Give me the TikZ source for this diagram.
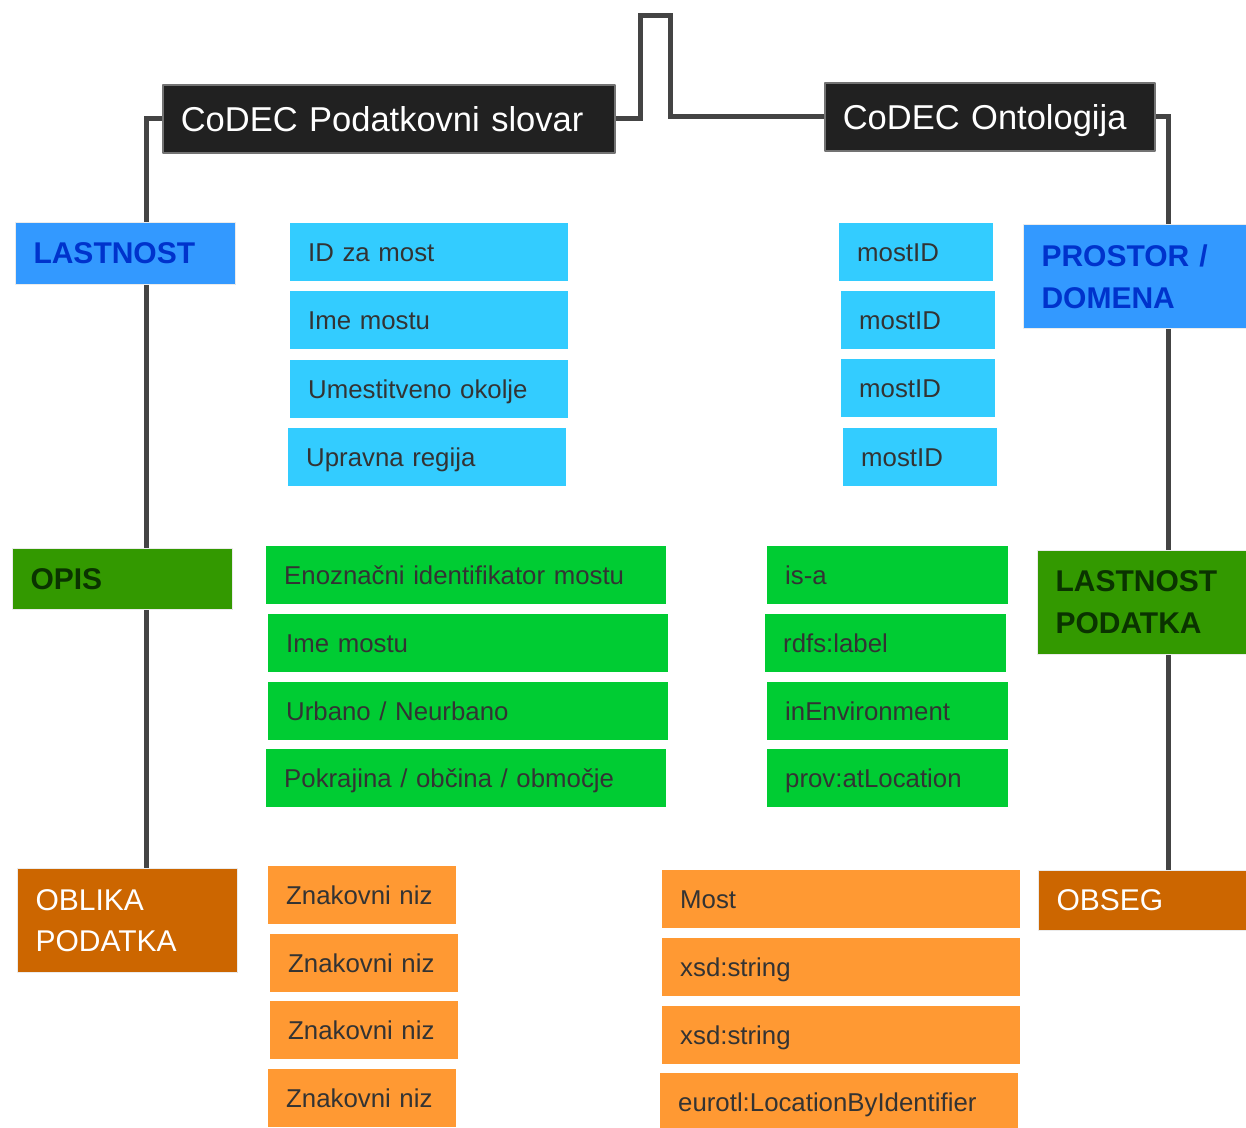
\documentclass[tikz,border=0pt]{standalone}
\usepackage{fontspec}
\setmainfont{Liberation Sans}
\usetikzlibrary{backgrounds}

\begin{document}
\begin{tikzpicture}[x=1pt,y=-1pt,line join=round,
  link/.style={draw=linkgray,line width=5pt},
  head/.style={anchor=north west,fill=black!87,draw=black!55,line width=1.5pt,text=white,
    inner xsep=18pt,inner ysep=0pt,minimum height=68pt,align=left,
    text height=25pt,text depth=0pt,font=\fontsize{34.5}{40}\selectfont},
  tag/.style={anchor=north west,inner xsep=18pt,inner ysep=0pt,align=left,draw=black!8,line width=1pt,
    font=\fontsize{30}{42}\selectfont\bfseries},
  cell/.style={anchor=north west,inner xsep=18pt,inner ysep=0pt,minimum height=58pt,align=left,
    text height=20pt,text depth=2pt,text=cellgray,font=\fontsize{25.8}{30}\selectfont},
  ]
  \definecolor{linkgray}{HTML}{444444}
  \definecolor{cellgray}{HTML}{333333}
  \definecolor{cellblue}{HTML}{33CCFF}
  \definecolor{cellgreen}{HTML}{00CC33}
  \definecolor{cellorange}{HTML}{FF9933}
  \definecolor{tagblue}{HTML}{3399FF}
  \definecolor{tagbluetxt}{HTML}{0033CC}
  \definecolor{taggreen}{HTML}{339900}
  \definecolor{taggreentxt}{HTML}{0A3300}
  \definecolor{tagorange}{HTML}{CC6600}
  \useasboundingbox (0,0) rectangle (1246,1127);
  \clip (0,0) rectangle (1246,1127);
%%
  % Node: hdrL
  \node[head,text width=416pt] (hdrL) at (162,84) {CoDEC Podatkovni slovar};
  % Node: hdrR
  \node[head,text width=294pt] (hdrR) at (824,82) {CoDEC Ontologija};
  % Node: lastnostL
  \node[tag,fill=tagblue,text=tagbluetxt,text width=184pt,minimum height=62pt] (lastnostL) at (15,222) {LASTNOST};
  % Node: opisL
  \node[tag,fill=taggreen,text=taggreentxt,text width=184pt,minimum height=61pt] (opisL) at (12,548) {OPIS};
  % Node: oblikaL
  \node[tag,fill=tagorange,text=white,text width=184pt,minimum height=104pt,
    font=\fontsize{30}{41}\selectfont] (oblikaL) at (17,868) {OBLIKA\\PODATKA};
  % Node: prostorR
  \node[tag,fill=tagblue,text=tagbluetxt,text width=204pt,minimum height=104pt] (prostorR) at (1023,224) {PROSTOR /\\DOMENA};
  % Node: lastnostR
  \node[tag,fill=taggreen,text=taggreentxt,text width=204pt,minimum height=104pt] (lastnostR) at (1037,550) {LASTNOST\\PODATKA};
  % Node: obsegR
  \node[tag,fill=tagorange,text=white,text width=204pt,minimum height=60pt,
    font=\fontsize{30}{41}\selectfont] (obsegR) at (1038,870) {OBSEG};
  % Node: idL
  \node[cell,fill=cellblue,text width=242pt] (idL) at (290,223) {ID za most};
  % Node: imeL
  \node[cell,fill=cellblue,text width=242pt] (imeL) at (290,291) {Ime mostu};
  % Node: okoljeL
  \node[cell,fill=cellblue,text width=242pt] (okoljeL) at (290,360) {Umestitveno okolje};
  % Node: regijaL
  \node[cell,fill=cellblue,text width=242pt] (regijaL) at (288,428) {Upravna regija};
  % Node: mostidA
  \node[cell,fill=cellblue,text width=118pt] (mostidA) at (839,223) {mostID};
  % Node: mostidB
  \node[cell,fill=cellblue,text width=118pt] (mostidB) at (841,291) {mostID};
  % Node: mostidC
  \node[cell,fill=cellblue,text width=118pt] (mostidC) at (841,359) {mostID};
  % Node: mostidD
  \node[cell,fill=cellblue,text width=118pt] (mostidD) at (843,428) {mostID};
  % Node: enoznL
  \node[cell,fill=cellgreen,text width=364pt] (enoznL) at (266,546) {Enoznačni identifikator mostu};
  % Node: imeG
  \node[cell,fill=cellgreen,text width=364pt] (imeG) at (268,614) {Ime mostu};
  % Node: urbanoL
  \node[cell,fill=cellgreen,text width=364pt] (urbanoL) at (268,682) {Urbano / Neurbano};
  % Node: pokrajinaL
  \node[cell,fill=cellgreen,text width=364pt] (pokrajinaL) at (266,749) {Pokrajina / občina / območje};
  % Node: isa
  \node[cell,fill=cellgreen,text width=205pt] (isa) at (767,546) {is-a};
  % Node: rdfslabel
  \node[cell,fill=cellgreen,text width=205pt] (rdfslabel) at (765,614) {rdfs:label};
  % Node: inenv
  \node[cell,fill=cellgreen,text width=205pt] (inenv) at (767,682) {inEnvironment};
  % Node: provloc
  \node[cell,fill=cellgreen,text width=205pt] (provloc) at (767,749) {prov:atLocation};
  % Node: nizA
  \node[cell,fill=cellorange,text width=152pt] (nizA) at (268,866) {Znakovni niz};
  % Node: nizB
  \node[cell,fill=cellorange,text width=152pt] (nizB) at (270,934) {Znakovni niz};
  % Node: nizC
  \node[cell,fill=cellorange,text width=152pt] (nizC) at (270,1001) {Znakovni niz};
  % Node: nizD
  \node[cell,fill=cellorange,text width=152pt] (nizD) at (268,1069) {Znakovni niz};
  % Node: most
  \node[cell,fill=cellorange,text width=322pt] (most) at (662,870) {Most};
  % Node: xsdA
  \node[cell,fill=cellorange,text width=322pt] (xsdA) at (662,938) {xsd:string};
  % Node: xsdB
  \node[cell,fill=cellorange,text width=322pt] (xsdB) at (662,1006) {xsd:string};
  % Node: eurotl
  \node[cell,fill=cellorange,text width=322pt] (eurotl) at (660,1073) {eurotl:LocationByIdentifier};
%%
  \coordinate (topA) at (640,15);
  \coordinate (topB) at (670,15);
  \coordinate (spineL) at (146,868);
  \coordinate (spineR) at (1168,870);
\begin{scope}[on background layer]
  % Edge: hdrL -> hdrR
  \draw[link] (hdrL.east) -| (topA) -- (topB) |- (hdrR.west);
  % Edge: hdrL -> oblikaL
  \draw[link] (hdrL.west) -| (spineL);
  % Edge: hdrR -> obsegR
  \draw[link] (hdrR.east) -| (spineR);
\end{scope}
%
\end{tikzpicture}
\end{document}
